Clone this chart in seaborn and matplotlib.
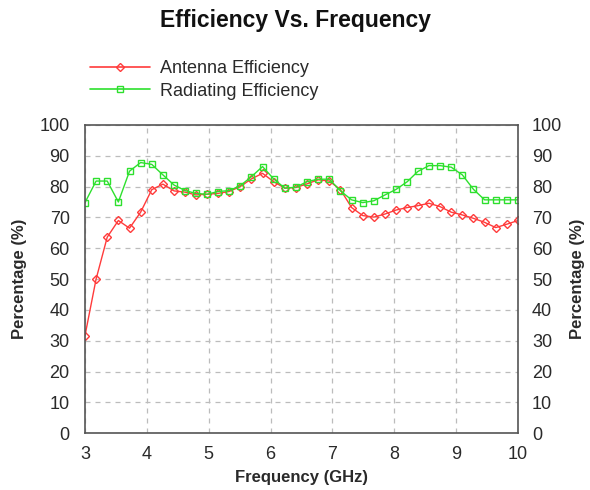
import numpy as np
import pandas as pd
import seaborn as sns
import matplotlib.pyplot as plt

freq = [3.00, 3.18, 3.36, 3.54, 3.72, 3.90, 4.08, 4.26, 4.44, 4.62,
        4.79, 4.97, 5.15, 5.33, 5.51, 5.69, 5.87, 6.05, 6.23, 6.41,
        6.59, 6.77, 6.95, 7.13, 7.31, 7.49, 7.67, 7.85, 8.03, 8.21,
        8.38, 8.56, 8.74, 8.92, 9.10, 9.28, 9.46, 9.64, 9.82, 10.00]

antenna = [31.6, 50.0, 63.6, 69.0, 66.5, 71.7, 79.0, 80.8, 78.6, 78.2,
           77.3, 77.5, 77.8, 78.4, 80.0, 82.5, 84.3, 81.6, 79.5, 79.7,
           80.9, 82.2, 81.8, 79.0, 73.2, 70.6, 70.1, 71.1, 72.4, 73.2,
           73.8, 74.6, 73.5, 71.7, 70.8, 69.7, 68.4, 66.7, 67.8, 69.0]

radiating = [74.8, 81.8, 81.8, 75.0, 85.0, 87.8, 87.2, 83.8, 80.5, 78.7,
             77.8, 77.5, 78.4, 78.7, 80.3, 83.2, 86.5, 82.5, 79.5, 79.8,
             81.6, 82.4, 82.4, 78.6, 75.7, 74.8, 75.4, 77.3, 79.1, 81.6,
             84.9, 86.8, 86.8, 86.3, 83.8, 79.1, 75.7, 75.7, 75.7, 75.7]

series = ["Antenna Efficiency", "Radiating Efficiency"]

df = pd.concat([
    pd.DataFrame({"freq": freq, "val": antenna, "series": series[0]}),
    pd.DataFrame({"freq": freq, "val": radiating, "series": series[1]}),
])

sns.set_style("whitegrid")
plt.rcParams['font.family'] = ['Liberation Sans', 'DejaVu Sans']
txt = "#2a2a2a"

fig = plt.figure(figsize=(5.9, 4.9), dpi=100)
ax = fig.add_axes([0.144, 0.116, 0.734, 0.629])

sns.lineplot(data=df, x="freq", y="val", hue="series", style="series",
             palette={series[0]: "#ff3b3b", series[1]: "#2ee02e"},
             markers={series[0]: "D", series[1]: "s"}, dashes=False,
             markersize=5, markerfacecolor="none", markeredgewidth=1.0,
             linewidth=1.0, ax=ax, legend=False)

# open markers take the line colour
for line in ax.lines:
    line.set_markeredgecolor(line.get_color())
    line.set_markerfacecolor("none")
ax.lines[0].set_markersize(4.5)

ax.set_xlim(3, 10)
ax.set_ylim(0, 100)
ax.set_xticks(range(3, 11))
ax.set_yticks(range(0, 101, 10))
ax.grid(True, linestyle=(0, (4, 4)), color="#bcbcbc", linewidth=0.9)
for s in ax.spines.values():
    s.set_color("#555555")
    s.set_linewidth(1.2)
ax.tick_params(colors=txt, labelsize=13, length=0)
ax.tick_params(axis="x", pad=9)
ax.tick_params(axis="y", pad=11)

ax.set_xlabel("Frequency (GHz)", fontsize=12, fontweight="bold", color=txt, labelpad=5)
ax.set_ylabel("Percentage (%)", fontsize=12, fontweight="bold", color=txt, labelpad=9)

ax2 = ax.twinx()
ax2.set_ylim(0, 100)
ax2.set_yticks(range(0, 101, 10))
ax2.grid(False)
ax2.tick_params(colors=txt, labelsize=13, length=0, pad=10)
ax2.set_ylabel("Percentage (%)", fontsize=12, fontweight="bold", color=txt, labelpad=6)
for s in ax2.spines.values():
    s.set_visible(False)

fig.text(0.5, 0.958, "Efficiency Vs. Frequency", ha="center", va="center",
         fontsize=16.5, fontweight="bold", color="#111111")

handles = [plt.Line2D([], [], color="#ff3b3b", marker="D", markersize=4.5,
                      markerfacecolor="none", linewidth=1.2),
           plt.Line2D([], [], color="#2ee02e", marker="s", markersize=4.5,
                      markerfacecolor="none", linewidth=1.2)]
fig.legend(handles, series, loc="upper left", bbox_to_anchor=(0.125, 0.91),
           frameon=False, fontsize=13, handlelength=3.3, handletextpad=0.6,
           labelspacing=0.3, labelcolor=txt)

fig.savefig("out.png", dpi=100)
